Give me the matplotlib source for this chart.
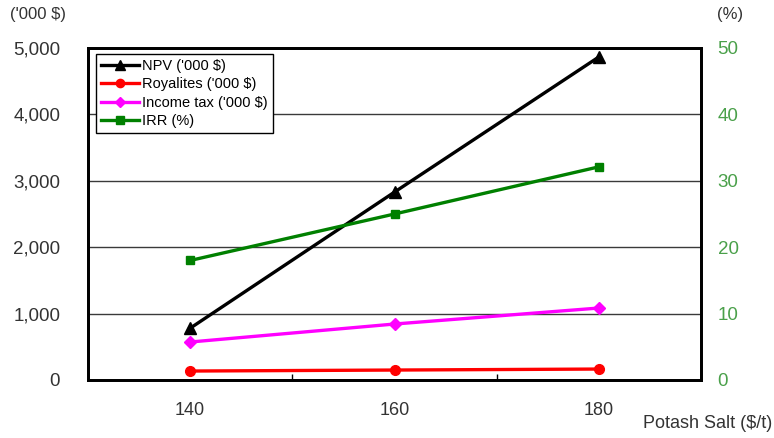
import matplotlib
matplotlib.use("Agg")
import matplotlib.pyplot as plt
from matplotlib.ticker import FuncFormatter, FixedLocator

plt.rcParams['font.family'] = ['Liberation Sans', 'DejaVu Sans']

# Potash salt price scenarios ($/t)
price = [140, 160, 180]

# Economic results per scenario
npv = [780, 2830, 4865]          # '000 $
royalties = [135, 150, 165]      # '000 $
income_tax = [572, 843, 1084]    # '000 $
irr = [18.0, 25.0, 32.1]         # %

x_ticks = [140, 160, 180]
left_ticks = [0, 1000, 2000, 3000, 4000, 5000]
right_ticks = [0, 10, 20, 30, 40, 50]

W, H = 774, 438
fig = plt.figure(figsize=(W / 100, H / 100), dpi=100)
ax = fig.add_axes([88 / W, 1 - 380 / H, (701 - 88) / W, (380 - 48) / H])
ax2 = ax.twinx()

ax.set_xlim(130, 190)
ax.set_ylim(0, 5000)
ax2.set_ylim(0, 50)

# horizontal gridlines
ax.set_yticks(left_ticks)
ax.yaxis.grid(True, color='#3a3a3a', linewidth=1.0)
ax.set_axisbelow(True)

h_npv, = ax.plot(price, npv, color='black', lw=2.4, marker='^', ms=8, zorder=4,
                 label="NPV ('000 $)")
h_roy, = ax.plot(price, royalties, color='#ff0000', lw=2.4, marker='o', ms=7, zorder=3,
                 label="Royalites ('000 $)")
h_tax, = ax.plot(price, income_tax, color='#ff00ff', lw=2.4, marker='D', ms=6, zorder=3,
                 label="Income tax ('000 $)")
h_irr, = ax2.plot(price, irr, color='#008000', lw=2.4, marker='s', ms=6, zorder=3,
                  label="IRR (%)")

# axes frame
for a in (ax, ax2):
    for s in a.spines.values():
        s.set_linewidth(2.0)
        s.set_color('black')

ax.set_xticks(x_ticks)
ax.xaxis.set_minor_locator(FixedLocator([150, 170]))
ax.tick_params(axis='x', which='major', length=0, pad=16, labelsize=13, labelcolor='#333333')
ax.tick_params(axis='x', which='minor', direction='in', length=4, width=1)
ax.tick_params(axis='y', length=0, pad=20, labelsize=13.5, labelcolor='#333333')
ax.yaxis.set_major_formatter(FuncFormatter(lambda v, p: f"{int(v):,}"))

ax2.set_yticks(right_ticks)
ax2.tick_params(axis='y', length=0, pad=12, labelsize=13.5, labelcolor='#4aa04a')

ax2.legend(handles=[h_npv, h_roy, h_tax, h_irr], loc='upper left',
           bbox_to_anchor=(0.013, 0.982), borderaxespad=0, fontsize=10.5,
           frameon=True, fancybox=False, edgecolor='black', framealpha=1,
           handlelength=2.6, handletextpad=0.2, labelspacing=0.3,
           borderpad=0.35, markerscale=0.85)
ax2.get_legend().get_frame().set_linewidth(1.0)

fig.text(38 / W, 1 - 15 / H, "('000 $)", ha='center', va='center', fontsize=12, color='#333333')
fig.text(730 / W, 1 - 15 / H, "(%)", ha='center', va='center', fontsize=12, color='#333333')
fig.text(772 / W, 1 - 424 / H, "Potash Salt ($/t)", ha='right', va='center', fontsize=13, color='#333333')

fig.savefig("out.png", dpi=100)
